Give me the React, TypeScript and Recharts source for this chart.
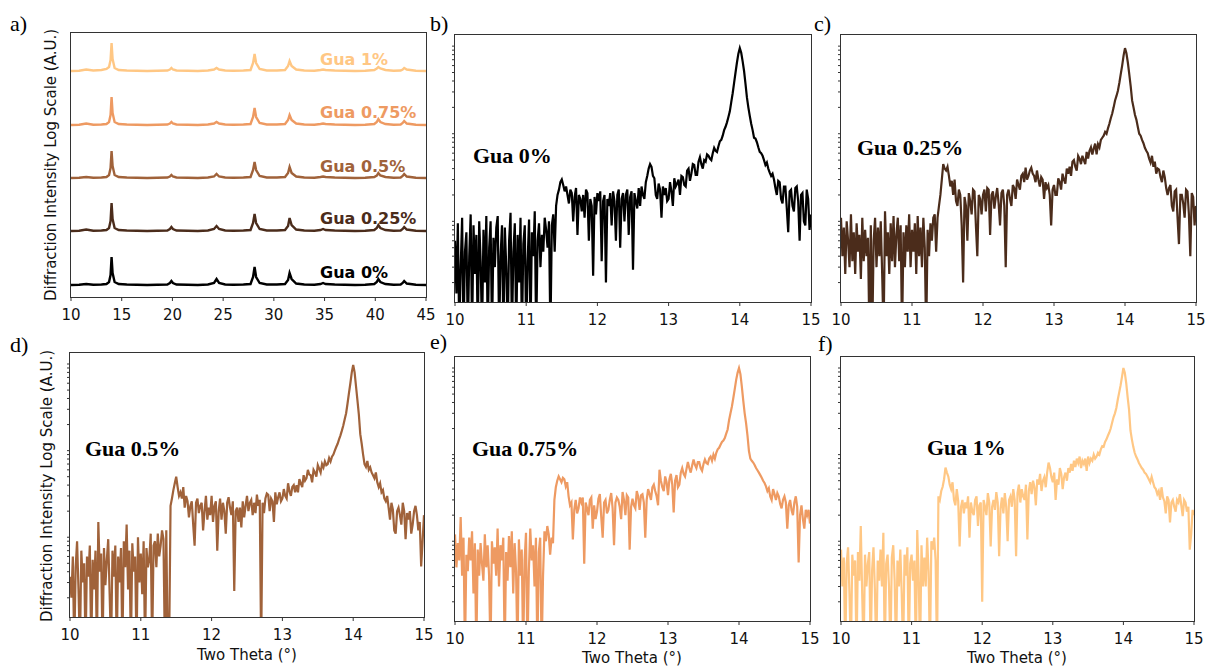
import { LineChart, Line, XAxis, YAxis } from "recharts"

// ---- panel a: full scans, 10–45°, stacked (plotted offsets, arbitrary units) ----
const THETA_WIDE = [
  10, 10.8, 11.5, 12.2, 13, 13.5, 13.75, 13.9, 14, 14.1, 14.3, 14.7, 15.5, 16.5, 17.5, 18.5, 19.5,
  19.75, 19.9, 20.05, 20.4, 21.5, 22.5, 23.5, 24.1, 24.35, 24.6, 25.2, 26, 27, 27.7, 27.95, 28.1,
  28.25, 28.6, 29.3, 30.3, 31.1, 31.4, 31.55, 31.75, 32.2, 33, 34, 34.6, 34.85, 35.1, 36, 37, 38, 39,
  39.9, 40.15, 40.3, 40.5, 41, 41.8, 42.5, 42.7, 42.85, 43.1, 44, 45,
]
const GUA_0_WIDE = [
  12, 12.3, 13, 12.2, 12.5, 13, 15, 22, 40, 24, 15, 13, 12.5, 12.2, 12, 12.3, 12.5, 14, 16, 14, 12.5,
  12.2, 12, 12.5, 14, 18, 14, 12.5, 12.2, 12.5, 13, 20, 30, 20, 14, 12.5, 12.5, 13, 17, 24, 18, 13.5,
  12.5, 12.2, 13, 14, 13, 12.5, 12.2, 12, 12.2, 13, 15, 18, 15, 13, 12.2, 12.5, 14, 16, 13.5, 12.2, 12,
]
const GUA_025_WIDE = [
  66, 66.3, 67.5, 66.2, 66.5, 67, 69, 76, 94, 78, 69, 67, 66.5, 66.2, 66, 66.3, 66.5, 68, 70, 68, 66.5,
  66.2, 66, 66.5, 68, 71, 68, 66.5, 66.2, 66.5, 67, 74, 83, 74, 68, 66.5, 66.5, 67, 71, 79, 72, 67.5,
  66.5, 66.2, 67, 68, 67, 66.5, 66.2, 66, 66.2, 67, 69, 72, 69, 67, 66.2, 66.5, 68, 70, 67.5, 66.2, 66,
]
const GUA_050_WIDE = [
  119, 119.3, 120, 119.2, 119.5, 120, 122, 129, 146, 131, 122, 120, 119.5, 119.2, 119, 119.3, 119.5,
  120.5, 122, 120.5, 119.5, 119.2, 119, 119.5, 120.5, 123, 120.5, 119.5, 119.2, 119.5, 120, 127, 135,
  127, 121, 119.5, 119.5, 120, 124, 130, 124, 120.5, 119.5, 119.2, 120, 120.5, 120, 119.5, 119.2, 119,
  119.2, 120, 121.5, 124, 121.5, 120, 119.2, 119.5, 121, 123, 120.5, 119.2, 119,
]
const GUA_075_WIDE = [
  172, 172.3, 173.5, 172.2, 172.5, 173, 175, 182, 200, 184, 175, 173, 172.5, 172.2, 172, 172.3, 172.5,
  173.5, 175, 173.5, 172.5, 172.2, 172, 172.5, 173.5, 175, 173.5, 172.5, 172.2, 172.5, 173, 180, 189,
  180, 174, 172.5, 172.5, 173, 177, 182, 177, 173.5, 172.5, 172.2, 173, 173.5, 173, 172.5, 172.2, 172,
  172.2, 173, 175, 178, 175, 173, 172.2, 172.5, 174, 176, 173.5, 172.2, 172,
]
const GUA_100_WIDE = [
  226, 226.3, 227.5, 226.5, 227, 228, 230, 237, 254, 238, 229, 227, 226.5, 226.2, 226, 226.3, 226.5,
  227.5, 229, 227.5, 226.5, 226.2, 226, 226.5, 227.5, 229, 227.5, 226.5, 226.2, 226.5, 227, 234, 243,
  234, 228, 226.5, 226.5, 227, 231, 236, 231, 227.5, 226.5, 226.2, 227, 227.5, 227, 226.5, 226.2, 226,
  226.2, 227, 228.5, 230, 228.5, 227, 226.2, 226.5, 227.5, 229, 227.5, 226.2, 226,
]

// ---- panels b–f: 10–15° scans, counts on a log axis, 0.02° step (one row = 0.2°) ----
const THETA_ZOOM = Array.from({ length: 251 }, (_, i) => Math.round((10 + i * 0.02) * 100) / 100)

const GUA_0_ZOOM = [
  60, 15, 95, 5, 30, 110, 5, 45, 75, 5,
  40, 120, 5, 90, 25, 70, 5, 100, 35, 5,
  80, 20, 115, 5, 50, 100, 5, 65, 30, 85,
  115, 5, 40, 90, 5, 85, 30, 5, 60, 125,
  5, 45, 95, 5, 70, 20, 110, 5, 55, 90,
  5, 35, 105, 5, 75, 40, 130, 5, 60, 95,
  30, 70, 45, 110, 80, 50, 100, 5, 90, 120,
  45, 150, 200, 230, 280, 300, 260, 220, 250, 200,
  160, 230, 210, 100, 190, 240, 70, 200, 180, 130,
  200, 110, 230, 210, 60, 180, 150, 24, 190, 120,
  210, 170, 220, 35, 170, 200, 20, 180, 150, 210,
  90, 220, 170, 60, 200, 230, 50, 180, 210, 100,
  200, 230, 70, 190, 220, 28, 210, 170, 140, 240,
  150, 250, 200, 180, 280, 330, 400, 450, 420, 330,
  310, 200, 180, 270, 230, 110, 250, 200, 240, 170,
  180, 280, 220, 150, 310, 250, 270, 300, 200, 330,
  320, 260, 250, 380, 400, 290, 350, 450, 440, 340,
  340, 480, 540, 450, 400, 500, 480, 580, 560, 520,
  500, 600, 690, 640, 620, 720, 820, 850, 950, 1100,
  1200, 1350, 1550, 1800, 2300, 2900, 3800, 5000, 6500, 8200,
  9500, 8400, 6700, 5200, 3700, 2600, 2000, 1600, 1300, 1100,
  900, 880, 800, 700, 620, 600, 560, 500, 440, 470,
  400, 360, 330, 350, 300, 240, 200, 290, 280, 180,
  160, 250, 250, 140, 75, 220, 230, 150, 130, 240,
  250, 170, 60, 200, 210, 100, 90, 230, 180, 80,
  120,
]
const GUA_025_ZOOM = [
  110, 40, 85, 25, 100, 60, 30, 120, 35, 75,
  25, 95, 45, 70, 22, 110, 35, 80, 40, 65,
  5, 90, 5, 60, 110, 30, 85, 40, 100, 25,
  5, 130, 40, 75, 25, 95, 35, 115, 30, 70,
  110, 35, 90, 5, 75, 30, 90, 45, 120, 30,
  80, 45, 95, 25, 115, 40, 85, 30, 110, 50,
  5, 80, 40, 95, 60, 110, 120, 45, 110, 150,
  200, 300, 450, 400, 380, 420, 330, 250, 290, 200,
  300, 170, 150, 230, 200, 90, 20, 190, 150, 60,
  210, 170, 120, 230, 220, 90, 40, 200, 180, 120,
  200, 230, 130, 240, 230, 70, 200, 220, 140, 190,
  240, 160, 90, 210, 230, 150, 30, 200, 230, 180,
  150, 260, 240, 180, 300, 260, 230, 330, 350, 280,
  410, 300, 330, 380, 410, 350, 330, 280, 380, 300,
  250, 320, 300, 180, 280, 240, 260, 200, 90, 230,
  260, 200, 200, 310, 280, 230, 350, 300, 270, 400,
  350, 420, 330, 480, 500, 420, 380, 560, 520, 450,
  560, 500, 450, 620, 520, 640, 700, 580, 680, 770,
  580, 760, 700, 850, 900, 950, 1050, 1000, 1150, 1300,
  1500, 1700, 2000, 2400, 2700, 3100, 3800, 4800, 6000, 7800,
  9500, 8300, 6500, 4800, 3500, 2400, 2000, 1650, 1450, 1200,
  1000, 950, 850, 780, 690, 640, 600, 520, 470, 560,
  420, 480, 350, 400, 390, 320, 280, 380, 320, 240,
  200, 240, 260, 150, 130, 220, 230, 110, 55, 200,
  200, 160, 110, 230, 220, 120, 40, 210, 190, 90,
  150,
]
const GUA_050_ZOOM = [
  35, 20, 60, 5, 45, 90, 25, 5, 70, 30,
  50, 5, 60, 35, 80, 5, 55, 25, 70, 5,
  150, 40, 65, 5, 75, 28, 55, 95, 22, 5,
  70, 35, 80, 5, 60, 30, 75, 5, 90, 45,
  140, 25, 70, 5, 85, 40, 60, 5, 100, 30,
  65, 22, 90, 5, 75, 45, 55, 110, 5, 80,
  90, 45, 110, 60, 80, 120, 95, 5, 120, 5,
  5, 230, 280, 350, 420, 500, 380, 300, 330, 280,
  380, 220, 300, 260, 170, 230, 260, 140, 80, 250,
  280, 190, 230, 250, 120, 200, 300, 160, 220, 180,
  300, 150, 230, 260, 70, 200, 280, 160, 250, 200,
  110, 250, 290, 220, 180, 260, 24, 200, 220, 150,
  220, 130, 260, 170, 230, 300, 200, 250, 270, 180,
  250, 190, 310, 230, 270, 5, 250, 190, 280, 320,
  310, 200, 280, 260, 150, 330, 240, 290, 330, 260,
  280, 360, 300, 280, 420, 340, 300, 380, 400, 330,
  400, 330, 470, 420, 380, 520, 450, 480, 600, 530,
  520, 430, 600, 560, 500, 680, 620, 560, 700, 640,
  750, 680, 700, 820, 750, 850, 900, 1000, 1100, 1200,
  1350, 1500, 1700, 1950, 2300, 2700, 3500, 4600, 6000, 8000,
  9750, 8000, 5500, 3800, 2600, 1550, 1200, 900, 700, 650,
  760, 600, 640, 560, 520, 480, 560, 430, 380, 420,
  330, 350, 280, 260, 300, 220, 160, 250, 210, 120,
  110, 200, 220, 180, 140, 250, 200, 95, 190, 160,
  200, 110, 140, 200, 230, 180, 120, 150, 46, 90,
  180,
]
const GUA_075_ZOOM = [
  120, 50, 95, 60, 190, 40, 110, 5, 70, 45,
  110, 60, 130, 25, 95, 5, 80, 40, 95, 55,
  35, 120, 50, 90, 40, 5, 100, 55, 85, 40,
  140, 30, 90, 60, 110, 5, 75, 35, 115, 50,
  130, 25, 95, 45, 5, 105, 40, 80, 5, 60,
  125, 5, 45, 140, 60, 90, 30, 110, 5, 75,
  110, 5, 40, 130, 100, 150, 120, 70, 110, 95,
  300, 420, 500, 560, 520, 480, 540, 520, 430, 480,
  330, 260, 280, 105, 230, 300, 210, 240, 320, 280,
  320, 55, 280, 240, 200, 300, 320, 140, 260, 180,
  220, 310, 350, 190, 110, 280, 300, 210, 230, 300,
  360, 240, 90, 280, 320, 300, 250, 180, 370, 300,
  200, 340, 320, 80, 250, 310, 260, 240, 380, 330,
  230, 340, 350, 280, 110, 300, 400, 350, 300, 420,
  450, 380, 330, 260, 670, 500, 420, 380, 560, 480,
  340, 520, 600, 450, 215, 500, 580, 420, 450, 620,
  700, 600, 560, 680, 820, 700, 620, 750, 880, 760,
  700, 820, 820, 700, 650, 780, 880, 800, 780, 900,
  950, 850, 1000, 900, 1050, 1150, 1200, 1300, 1400, 1450,
  1550, 1750, 1950, 2500, 3000, 3600, 4500, 5700, 7300, 8800,
  10000, 8500, 6100, 4200, 3000, 2300, 1650, 1100, 900, 850,
  810, 760, 700, 660, 620, 580, 540, 500, 470, 430,
  380, 410, 330, 300, 400, 350, 300, 360, 330, 270,
  240, 300, 330, 280, 140, 260, 300, 230, 200, 280,
  330, 250, 57, 200, 260, 180, 140, 230, 200, 230,
  160,
]
const GUA_100_ZOOM = [
  80, 30, 65, 5, 55, 85, 25, 5, 70, 40,
  60, 5, 75, 35, 150, 25, 5, 70, 30, 55,
  75, 5, 45, 85, 28, 5, 60, 35, 80, 30,
  125, 5, 55, 70, 30, 5, 65, 90, 35, 5,
  60, 30, 80, 25, 5, 70, 40, 85, 5, 55,
  70, 35, 60, 5, 135, 40, 5, 90, 30, 65,
  30, 110, 45, 5, 100, 80, 110, 60, 5, 330,
  300, 380, 425, 520, 710, 620, 560, 450, 400, 480,
  300, 260, 400, 290, 87, 250, 300, 210, 280, 240,
  330, 110, 280, 220, 200, 300, 330, 150, 260, 280,
  20, 300, 250, 200, 360, 280, 87, 250, 300, 230,
  370, 280, 67, 240, 320, 210, 360, 250, 100, 300,
  330, 250, 400, 300, 67, 360, 450, 280, 400, 330,
  300, 450, 105, 380, 480, 350, 500, 420, 260, 520,
  450, 600, 380, 500, 550, 420, 620, 810, 700, 550,
  480, 620, 300, 520, 450, 700, 600, 400, 550, 620,
  500, 700, 620, 780, 650, 850, 720, 900, 800, 950,
  700, 850, 780, 900, 650, 950, 800, 900, 850, 1000,
  900, 950, 1050, 1000, 1150, 1250, 1230, 1400, 1500, 1650,
  1800, 2000, 2330, 2700, 3000, 3450, 4300, 5200, 6300, 7900,
  10000, 8800, 6700, 4600, 3300, 1900, 1500, 1230, 1050, 950,
  880, 800, 750, 700, 670, 620, 600, 560, 520, 480,
  555, 480, 420, 400, 350, 380, 300, 420, 320, 290,
  210, 330, 300, 165, 280, 300, 250, 220, 300, 280,
  350, 260, 195, 300, 280, 220, 250, 80, 120, 230,
  200,
]

const WIDE_TICKS = [10, 15, 20, 25, 30, 35, 40, 45]
const ZOOM_TICKS = [10, 11, 12, 13, 14, 15]
const LOG_TICKS = [
  20, 30, 40, 50, 60, 70, 80, 90, 100, 200, 300, 400, 500, 600, 700, 800, 900,
  1000, 2000, 3000, 4000, 5000, 6000, 7000, 8000, 9000, 10000,
]

const C0 = "#000000"
const C25 = "#4b2c1b"
const C50 = "#a0623a"
const C75 = "#ee9a62"
const C100 = "#ffc784"

const SANS = "'DejaVu Sans', sans-serif"
const SERIF = "'Liberation Serif', 'Times New Roman', serif"
const FRAME = "#333"

type Box = { left: number; top: number; w: number; h: number }

const xAxisProps = {
  type: "number" as const,
  dataKey: "x",
  allowDataOverflow: true,
  interval: 0 as const,
  height: 40,
  axisLine: false,
  tickSize: 4,
  tickMargin: 8,
  tickLine: { stroke: FRAME },
  tick: { fill: "#111", fontSize: 15, fontFamily: SANS },
}

function Frame({ box }: { box: Box }) {
  return (
    <div
      style={{
        position: "absolute",
        left: box.left - 1,
        top: box.top - 1,
        width: box.w,
        height: box.h,
        border: `1px solid ${FRAME}`,
        pointerEvents: "none",
      }}
    />
  )
}

function WidePanel({ box }: { box: Box }) {
  const data = THETA_WIDE.map((x, i) => ({
    x,
    g0: GUA_0_WIDE[i],
    g25: GUA_025_WIDE[i],
    g50: GUA_050_WIDE[i],
    g75: GUA_075_WIDE[i],
    g100: GUA_100_WIDE[i],
  }))
  const series: [string, string][] = [
    ["g0", C0],
    ["g25", C25],
    ["g50", C50],
    ["g75", C75],
    ["g100", C100],
  ]
  return (
    <>
      <div style={{ position: "absolute", left: box.left - 10, top: box.top - 10 }}>
        <LineChart
          width={box.w + 20}
          height={box.h + 50}
          data={data}
          margin={{ top: 10, right: 10, bottom: 0, left: 0 }}
        >
          <XAxis {...xAxisProps} domain={[10, 45]} ticks={WIDE_TICKS} />
          <YAxis
            type="number"
            domain={[0, 264]}
            allowDataOverflow
            width={10}
            axisLine={false}
            tickLine={false}
            tick={false}
          />
          {series.map(([k, c]) => (
            <Line
              key={k}
              dataKey={k}
              stroke={c}
              strokeWidth={2.4}
              dot={false}
              isAnimationActive={false}
            />
          ))}
        </LineChart>
      </div>
      <Frame box={box} />
    </>
  )
}

function ZoomPanel({ box, values, color }: { box: Box; values: number[]; color: string }) {
  const data = THETA_ZOOM.map((x, i) => ({ x, y: values[i] }))
  return (
    <>
      <div style={{ position: "absolute", left: box.left - 10, top: box.top - 10 }}>
        <LineChart
          width={box.w + 20}
          height={box.h + 50}
          data={data}
          margin={{ top: 10, right: 10, bottom: 0, left: 0 }}
        >
          <XAxis {...xAxisProps} domain={[10, 15]} ticks={ZOOM_TICKS} />
          <YAxis
            type="number"
            scale="log"
            domain={[12, 13400]}
            allowDataOverflow
            ticks={LOG_TICKS}
            interval={0}
            width={10}
            axisLine={false}
            tickSize={3}
            tickLine={{ stroke: FRAME }}
            tickFormatter={() => ""}
          />
          <Line
            dataKey="y"
            stroke={color}
            strokeWidth={2.2}
            dot={false}
            isAnimationActive={false}
          />
        </LineChart>
      </div>
      <Frame box={box} />
    </>
  )
}

const BOX_A: Box = { left: 71, top: 33, w: 355, h: 264 }
const BOX_B: Box = { left: 455, top: 35, w: 356, h: 267 }
const BOX_C: Box = { left: 841, top: 35, w: 355, h: 267 }
const BOX_D: Box = { left: 70, top: 353, w: 354, h: 264 }
const BOX_E: Box = { left: 455, top: 357, w: 355, h: 264 }
const BOX_F: Box = { left: 841, top: 357, w: 353, h: 264 }

const YLABEL = "Diffraction Intensity Log Scale (A.U.)"

export default function App() {
  const lab = { fontFamily: SERIF, fontSize: 22, fill: "#000" }
  const gua = { fontFamily: SERIF, fontSize: 22, fontWeight: 700, fill: "#000" }
  const sans = { fontFamily: SANS, fontSize: 15, fill: "#111" }
  const tag = { fontFamily: SANS, fontSize: 16, fontWeight: 700 }
  return (
    <div
      style={{
        position: "absolute",
        left: 0,
        top: 0,
        width: 1205,
        height: 668,
        background: "#fff",
        overflow: "hidden",
      }}
    >
      <WidePanel box={BOX_A} />
      <ZoomPanel box={BOX_B} values={GUA_0_ZOOM} color={C0} />
      <ZoomPanel box={BOX_C} values={GUA_025_ZOOM} color={C25} />
      <ZoomPanel box={BOX_D} values={GUA_050_ZOOM} color={C50} />
      <ZoomPanel box={BOX_E} values={GUA_075_ZOOM} color={C75} />
      <ZoomPanel box={BOX_F} values={GUA_100_ZOOM} color={C100} />

      <svg
        width={1205}
        height={668}
        style={{ position: "absolute", left: 0, top: 0, pointerEvents: "none" }}
      >
        <text x={10} y={31} {...lab}>a)</text>
        <text x={430} y={31} {...lab}>b)</text>
        <text x={814} y={31} {...lab}>c)</text>
        <text x={10} y={352} {...lab}>d)</text>
        <text x={430} y={349} {...lab}>e)</text>
        <text x={818} y={351} {...lab}>f)</text>

        <text x={320} y={65} {...tag} fill={C100}>Gua 1%</text>
        <text x={320} y={118} {...tag} fill={C75}>Gua 0.75%</text>
        <text x={320} y={172} {...tag} fill={C50}>Gua 0.5%</text>
        <text x={320} y={224} {...tag} fill={C25}>Gua 0.25%</text>
        <text x={320} y={278} {...tag} fill={C0}>Gua 0%</text>

        <text x={473} y={163} {...gua}>Gua 0%</text>
        <text x={857} y={155} {...gua}>Gua 0.25%</text>
        <text x={85} y={456} {...gua}>Gua 0.5%</text>
        <text x={472} y={456} {...gua}>Gua 0.75%</text>
        <text x={927} y={455} {...gua}>Gua 1%</text>

        <text x={56} y={165} {...sans} textAnchor="middle" transform="rotate(-90 56 165)">
          {YLABEL}
        </text>
        <text x={52} y={486} {...sans} textAnchor="middle" transform="rotate(-90 52 486)">
          {YLABEL}
        </text>

        <text x={247} y={660} {...sans} textAnchor="middle">Two Theta (°)</text>
        <text x={632} y={663} {...sans} textAnchor="middle">Two Theta (°)</text>
        <text x={1017} y={663} {...sans} textAnchor="middle">Two Theta (°)</text>
      </svg>
    </div>
  )
}
